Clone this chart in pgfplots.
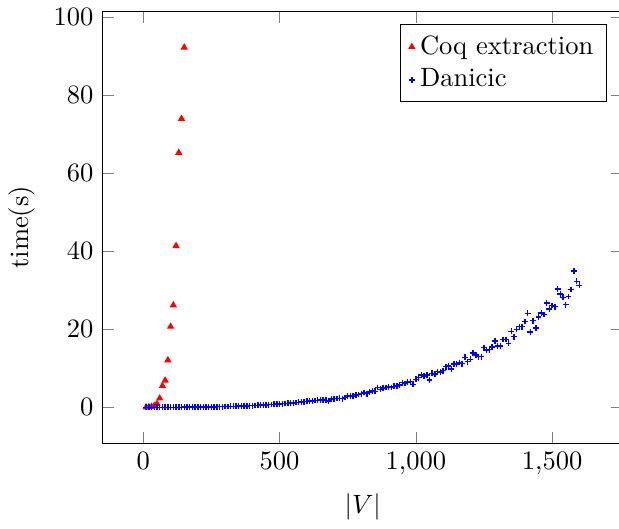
\documentclass[border=0pt]{standalone}
\usepackage{pgfplots}
\pgfplotsset{compat=1.18}
\begin{document}
\begin{tikzpicture}
\begin{axis}[
  scale only axis,
  width=196pt, height=162.8pt,
  xmin=-149, xmax=1759,
  ymin=-9.23, ymax=101.53,
  xtick={0,500,1000,1500},
  ytick={0,20,40,60,80,100},
  xlabel={$|V|$},
  ylabel={time(s)},
  legend pos=north east,
  legend cell align=left,
]
\addplot[only marks, color=red, mark=triangle*, mark size=1.2pt, mark options={draw=red, fill=red}] coordinates {
(10,0.0) (20,0.05) (30,0.15) (40,0.4) (50,0.9)
(60,2.3) (70,5.5) (80,6.9) (90,12.1) (100,20.7)
(110,26.2) (120,41.4) (130,65.3) (140,74.0) (150,92.3)
};
\addlegendentry{Coq extraction}
\addplot[only marks, color=blue, mark=+, mark size=1.1pt, mark options={draw=blue, line width=0.55pt}] coordinates {
(10,0.0) (20,0.0) (30,0.0) (40,0.0) (50,0.0) (60,0.0) (70,0.0) (80,0.0)
(90,0.01) (100,0.01) (110,0.01) (120,0.01) (130,0.02) (140,0.02) (150,0.03)
(160,0.03) (170,0.04) (180,0.04) (190,0.05) (200,0.06) (210,0.07) (220,0.08)
(230,0.09) (240,0.10) (250,0.11) (260,0.12) (270,0.14) (280,0.15) (290,0.17)
(300,0.19) (310,0.21) (320,0.23) (330,0.25) (340,0.27) (350,0.30) (360,0.32)
(370,0.35) (380,0.38) (390,0.41) (400,0.44) (410,0.48) (420,0.51) (430,0.55)
(440,0.59) (450,0.63) (460,0.68) (470,0.72) (480,0.77) (490,0.82) (500,0.87)
(510,0.93) (520,0.98) (530,1.04) (540,1.10) (550,1.16) (560,1.23) (570,1.30)
(580,1.37) (590,1.44) (600,1.52) (610,1.58) (620,1.66) (630,1.73) (640,1.80)
(650,1.9) (660,1.9) (670,1.8) (680,1.6) (690,2.1) (700,2.2) (710,2.25)
(720,2.3) (730,2.2) (740,2.5) (750,2.9) (760,2.8) (770,2.9) (780,3.1)
(790,3.3) (800,3.5) (810,3.8) (820,3.5) (830,3.9) (840,4.2) (850,4.1)
(860,5.1) (870,4.6) (880,4.9) (890,5.1) (900,5.3) (910,5.1) (920,5.4)
(930,5.5) (940,5.7) (950,6.3) (960,6.1) (970,6.5) (980,6.6) (990,5.9)
(1000,7.2) (1010,7.6) (1020,8.3) (1030,8.0) (1040,8.3) (1050,7.0) (1060,8.7)
(1070,8.5) (1080,9.2) (1090,9.0) (1100,9.4) (1110,10.4) (1120,10.6) (1130,9.8)
(1140,11.1) (1150,11.1) (1160,11.5) (1170,11.2) (1180,12.8) (1190,11.7)
(1200,12.3) (1210,13.9) (1220,13.4) (1230,13.0) (1240,13.0) (1250,15.3)
(1260,14.7) (1270,14.8) (1280,15.5) (1290,17.0) (1300,15.7) (1310,15.7)
(1320,17.4) (1330,17.4) (1340,16.4) (1350,19.5) (1360,18.1) (1370,20.0)
(1380,20.7) (1390,20.7) (1400,22.0) (1410,24.1) (1420,19.3) (1430,22.2)
(1440,20.3) (1450,23.2) (1460,24.2) (1470,23.8) (1480,26.7) (1490,25.2)
(1500,26.1) (1510,25.8) (1520,30.3) (1530,29.1) (1540,28.2) (1550,26.3)
(1560,28.4) (1570,30.2) (1580,34.9) (1590,32.3) (1600,31.3)
};
\addlegendentry{Danicic}
\end{axis}
\coordinate (bbsw) at (current bounding box.south west);
\coordinate (bbne) at (current bounding box.north east);
\pgfresetboundingbox
\path[use as bounding box] (bbsw) rectangle ([xshift=-1.6pt]bbne);
\end{tikzpicture}
\end{document}
